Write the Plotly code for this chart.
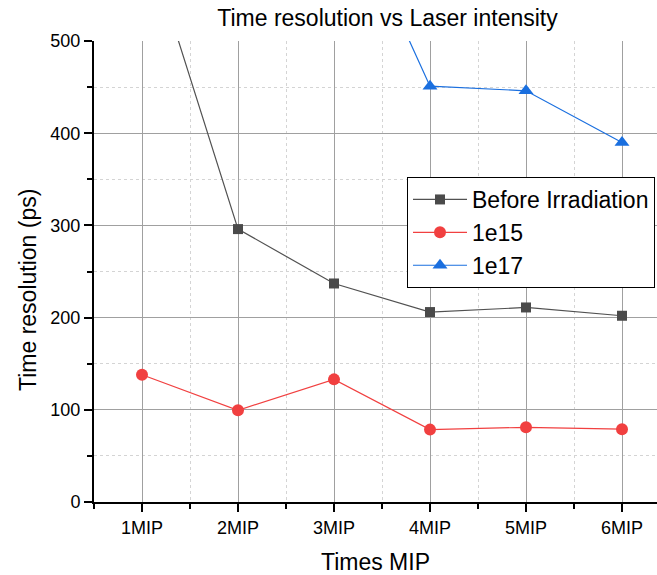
import plotly.graph_objects as go

# Data
mip_labels = ["1MIP", "2MIP", "3MIP", "4MIP", "5MIP", "6MIP"]
before_irr = [625, 296, 237, 206, 211, 202]
fluence_1e15 = [138, 99.5, 133, 78.5, 81, 79]
fluence_1e17 = [None, None, 680, 451, 446, 390]

x_pos = list(range(len(mip_labels)))

FONT = "Liberation Sans, Arial, sans-serif"

fig = go.Figure()

fig.add_trace(go.Scatter(
    x=x_pos, y=before_irr, name="Before Irradiation", mode="lines+markers",
    line=dict(color="#515151", width=1.2),
    marker=dict(symbol="square", size=10, color="#4a4a4a"),
    cliponaxis=True,
))
fig.add_trace(go.Scatter(
    x=x_pos, y=fluence_1e15, name="1e15", mode="lines+markers",
    line=dict(color="#F14040", width=1.2),
    marker=dict(symbol="circle", size=12, color="#F14040"),
    cliponaxis=True,
))
fig.add_trace(go.Scatter(
    x=x_pos, y=fluence_1e17, name="1e17", mode="lines+markers",
    line=dict(color="#1A6FDF", width=1.2),
    marker=dict(symbol="triangle-up", size=13, color="#1A6FDF"),
    cliponaxis=True,
))

fig.update_layout(
    width=657, height=575,
    margin=dict(l=94, r=0, t=41, b=73, autoexpand=False),
    paper_bgcolor="white", plot_bgcolor="white",
    font=dict(family=FONT, color="black"),
    title=dict(text="Time resolution vs Laser intensity",
               font=dict(size=23, family=FONT, color="black"),
               x=387.5 / 657, xanchor="center", xref="container",
               y=1 - 18 / 575, yanchor="middle", yref="container"),
    legend=dict(
        x=(407 - 94) / 563, xanchor="left",
        y=(502 - 177) / 461, yanchor="top",
        bgcolor="white", bordercolor="black", borderwidth=1,
        font=dict(size=23, family=FONT, color="black"),
        itemwidth=54, tracegroupgap=0,
    ),
    showlegend=True,
    annotations=[dict(
        text="Time resolution (ps)", textangle=-90,
        xref="paper", x=0, xshift=-66, xanchor="center",
        yref="paper", y=(502 - 290) / 461, yanchor="middle",
        showarrow=False, font=dict(size=23, family=FONT, color="black"),
    )],
)

fig.update_xaxes(
    range=[-0.5, -0.5 + 563 / 96],
    tickmode="array", tickvals=x_pos, ticktext=mip_labels,
    tickfont=dict(size=18, family=FONT, color="black"),
    ticks="outside", ticklen=8, tickwidth=1.5, tickcolor="black",
    showline=True, linecolor="black", linewidth=2,
    showgrid=True, gridcolor="#a0a0a0", gridwidth=1.2,
    zeroline=False,
    minor=dict(tickmode="linear", tick0=0.5, dtick=1, ticks="outside",
               ticklen=5, tickwidth=1.5, tickcolor="black",
               showgrid=True, gridcolor="#d4d4d4", griddash="dot", gridwidth=1),
    title=dict(text="Times MIP", font=dict(size=23, family=FONT, color="black"),
               standoff=19),
)

fig.update_yaxes(
    range=[0, 500],
    tickmode="linear", tick0=0, dtick=100,
    tickfont=dict(size=18, family=FONT, color="black"),
    ticks="outside", ticklen=8, tickwidth=1.5, tickcolor="black",
    showline=True, linecolor="black", linewidth=2,
    showgrid=True, gridcolor="#a0a0a0", gridwidth=1.2,
    zeroline=False,
    minor=dict(tickmode="linear", tick0=50, dtick=100, ticks="outside",
               ticklen=5, tickwidth=1.5, tickcolor="black",
               showgrid=True, gridcolor="#d4d4d4", griddash="dot", gridwidth=1),
)

fig.write_html("out.html")
